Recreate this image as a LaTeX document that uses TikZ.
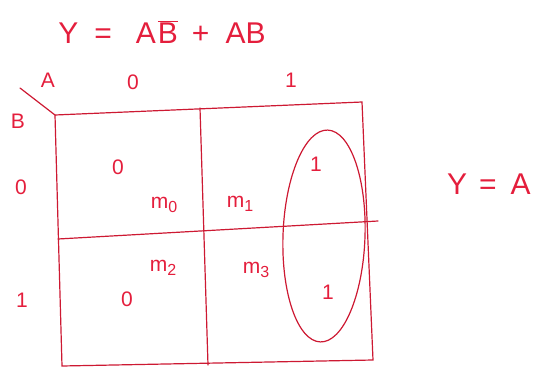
\documentclass[tikz,border=0pt]{standalone}
\usepackage{fontspec}
\setmainfont{Liberation Sans}
\definecolor{ink}{RGB}{228,30,60}
\definecolor{gridred}{RGB}{205,25,50}
\newcommand{\subdig}[1]{\raisebox{-0.35ex}{\fontsize{16}{18}\selectfont #1}}
\begin{document}
\begin{tikzpicture}[x=1pt,y=-1pt,
  lbl/.style={text=ink,inner sep=0pt,font=\fontsize{21}{24}\selectfont},
  big/.style={text=ink,inner sep=0pt,font=\fontsize{30}{34}\selectfont},
  gridline/.style={draw=gridred,line width=1.2pt,line cap=round}]
\useasboundingbox (0,0) rectangle (539,370);
% corners
\coordinate (tl) at (55,115);
\coordinate (tr) at (362,102);
\coordinate (bl) at (62,366);
\coordinate (br) at (373,360);
\coordinate (tm) at (200,108);
\coordinate (bm) at (208,365);
\coordinate (ml) at (58,239);
\coordinate (mr) at (378,221);
\coordinate (diag) at (20,88);
\draw[gridline] (tl) -- (tr) -- (br) -- (bl) -- cycle;
\draw[gridline] (tm) -- (bm);
\draw[gridline] (ml) -- (mr);
\draw[gridline] (diag) -- (tl);
% ellipse
\draw[gridred,line width=1.2pt,rotate around={-2:(324,236)}] (324,236) ellipse [x radius=41, y radius=106];
% texts
\node[big] (eq) at (162,32) {Y\hspace{16pt}=\hspace{24pt}A\hspace{2pt}$\overline{\mbox{B}}$\hspace{14pt}+\hspace{16pt}AB};
\node[big] (res) at (489,184) {Y\hspace{12pt}=\hspace{14pt}A};
\node[lbl] (la) at (48,80) {A};
\node[lbl] (a0) at (133,82) {0};
\node[lbl] (a1) at (291,80) {1};
\node[lbl] (lb) at (18,121) {B};
\node[lbl] (b0) at (21,187) {0};
\node[lbl] (b1) at (22,300) {1};
\node[lbl] (v0) at (118,167) {0};
\node[lbl] (v1) at (316,164) {1};
\node[lbl] (v2) at (127,299) {0};
\node[lbl] (v3) at (328,292) {1};
\node[lbl] (m0) at (164,205) {m\subdig{0}};
\node[lbl] (m1) at (240,204) {m\subdig{1}};
\node[lbl] (m2) at (163,268) {m\subdig{2}};
\node[lbl] (m3) at (256,270) {m\subdig{3}};
\end{tikzpicture}
\end{document}
